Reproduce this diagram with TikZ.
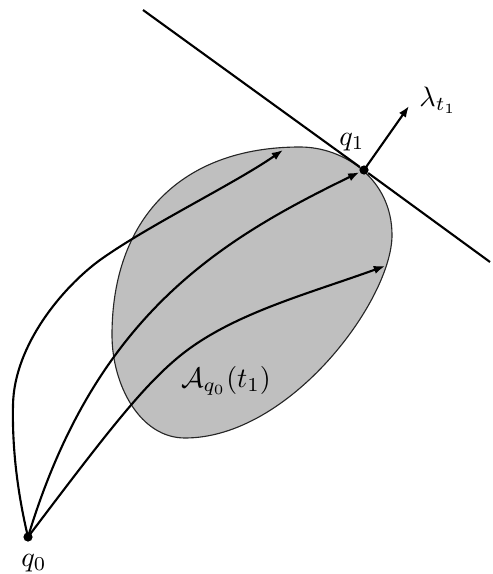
\documentclass[tikz,border=0pt]{standalone}
\usepackage{amsmath}
\usetikzlibrary{arrows.meta}
\newcommand{\reachtip}{-{Latex[length=1.4mm,width=1.05mm]}}

\begin{document}
\begin{tikzpicture}[
    x=0.125mm, y=-0.125mm,
    traj/.style={\reachtip, line width=0.75pt, line cap=round},
    plain/.style={line width=0.75pt},
    dotpt/.style={circle, fill=black, inner sep=0pt, minimum size=1.15mm},
    reachset/.style={fill=black!25, draw=black!85, line width=0.4pt}
]
  \useasboundingbox (0,0) rectangle (493,574);

  % reachable set A_{q0}(t1)
  \draw[reachset] (300,147) .. controls (345,147) and (392,180) .. (392,235)
    .. controls (392,300) and (290,438) .. (185,438)
    .. controls (140,438) and (112,385) .. (112,335)
    .. controls (112,220) and (180,147) .. cycle;
  \node (setlab) at (226,381) {$\mathcal{A}_{q_0}(t_1)$};

  \node[dotpt] (q0) at (28,537) {};
  \node[dotpt] (q1) at (364,170) {};
  \node (q0lab) at (34,563) {$q_0$};
  \node (q1lab) at (352,142) {$q_1$};

  % supporting line at q1
  \coordinate (tanA) at (143,10);
  \coordinate (tanB) at (490,262);
  \draw[plain] (tanA) -- (q1) -- (tanB);

  % adjoint vector
  \coordinate (lamtip) at (409,106);
  \node (lamlab) at (438,100) {$\lambda_{t_1}$};
  \draw[traj] (q1.center) -- (lamtip);

  % trajectories
  \coordinate (endup) at (283,150);
  \coordinate (enddown) at (385,266);
  \draw[traj] (q0.center) .. controls (18,495) and (12,450) .. (13,405)
    .. controls (14,345) and (63,287) .. (100,260)
    .. controls (149,225) and (234,184) .. (endup);
  \draw[traj] (q0.center) .. controls (95,315) and (220,240) .. (q1);
  \draw[traj] (q0.center) .. controls (105,435) and (140,390) .. (175,360)
    .. controls (227,315) and (305,295) .. (enddown);
\end{tikzpicture}
\end{document}
